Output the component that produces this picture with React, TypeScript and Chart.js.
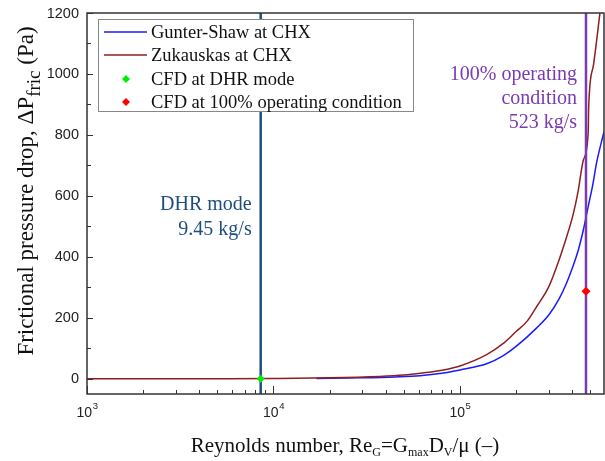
import { useEffect, useRef } from "react";
import { Chart, registerables } from "chart.js";

Chart.register(...registerables);

// ---- data ----
const gunterRe = [17000, 30000, 45000, 61000, 80000, 100000, 139000, 170000, 200000, 258000, 300000, 340000, 373000, 403000, 430000, 459000, 487000, 515000, 540000, 592000];
const gunterDp = [0.5, 3, 6, 10, 18, 29, 49, 75, 106, 167, 210, 262, 314, 368, 420, 489, 565, 635, 708, 811];

const zukRe = [1000, 3000, 5000, 10000, 20000, 37000, 50000, 63000, 80000, 100000, 139000, 170000, 200000, 230000, 258000, 300000, 340000, 373000, 403000, 430000, 459000, 487000, 490000, 520000, 563000, 592000];
const zukDp = [0, 0, 0.3, 1, 3, 7.5, 12, 19, 28, 42, 79, 115, 155, 190, 237, 303, 390, 465, 535, 615, 718, 807, 893, 1030, 1200, 1310];

const cfdDhrRe = [8540];
const cfdDhrDp = [0];
const cfdOpRe = [474000];
const cfdOpDp = [287];

const dhrRe = 8540;
const opRe = 474000;

const xRange = [1000, 592000];
const yRange = [-50, 1200];
const yTicks = [0, 200, 400, 600, 800, 1000, 1200];
const yMinorTicks = [100, 300, 500, 700, 900, 1100];
const xDecades = [1000, 10000, 100000];
const xExponents = ["3", "4", "5"];

const legendLabels = ["Gunter-Shaw at CHX", "Zukauskas at CHX", "CFD at DHR mode", "CFD at 100% operating condition"];
const dhrNote = ["DHR mode", "9.45 kg/s"];
const opNote = ["100% operating", "condition", "523 kg/s"];

// ---- styles ----
const BLUE = "#1a1aff";
const BROWN = "#8e1f1f";
const DHR_COLOR = "#1f4e7e";
const OP_COLOR = "#7a3bb0";
const GREEN = "#00ee00";
const RED = "#ff0000";
const SERIF = '"Liberation Serif", "Times New Roman", serif';
const SANS = '"Liberation Sans", Arial, sans-serif';

function diamond(ctx: CanvasRenderingContext2D, cx: number, cy: number, r: number, color: string) {
  ctx.beginPath();
  ctx.moveTo(cx, cy - r);
  ctx.lineTo(cx + r, cy);
  ctx.lineTo(cx, cy + r);
  ctx.lineTo(cx - r, cy);
  ctx.closePath();
  ctx.fillStyle = color;
  ctx.fill();
}

type Piece = { t: string; sub?: boolean };

function drawPieces(ctx: CanvasRenderingContext2D, pieces: Piece[], cx: number, baseY: number, main: string, sub: string, subOff: number) {
  let total = 0;
  for (const p of pieces) {
    ctx.font = p.sub ? sub : main;
    total += ctx.measureText(p.t).width;
  }
  let xPos = cx - total / 2;
  ctx.textAlign = "left";
  ctx.textBaseline = "alphabetic";
  for (const p of pieces) {
    ctx.font = p.sub ? sub : main;
    ctx.fillText(p.t, xPos, baseY + (p.sub ? subOff : 0));
    xPos += ctx.measureText(p.t).width;
  }
}

const decor = {
  id: "decor",
  afterDatasetsDraw(chart: any) {
    const { ctx, chartArea: a } = chart;
    const x = chart.scales.x;
    const y = chart.scales.y;
    ctx.save();

    // frame
    ctx.strokeStyle = "#333";
    ctx.lineWidth = 1.5;
    ctx.strokeRect(a.left, a.top, a.right - a.left, a.bottom - a.top);

    // x ticks (inward)
    ctx.lineWidth = 1;
    ctx.beginPath();
    for (const d of xDecades) {
      for (let k = 1; k <= 9; k++) {
        const v = k * d;
        if (v > xRange[1]) continue;
        const px = Math.round(x.getPixelForValue(v)) + 0.5;
        const len = k === 1 ? 8 : 4;
        ctx.moveTo(px, a.bottom);
        ctx.lineTo(px, a.bottom - len);
      }
    }
    // y ticks (inward)
    for (const v of yTicks) {
      const py = Math.round(y.getPixelForValue(v)) + 0.5;
      ctx.moveTo(a.left, py);
      ctx.lineTo(a.left + 6, py);
    }
    for (const v of yMinorTicks) {
      const py = Math.round(y.getPixelForValue(v)) + 0.5;
      ctx.moveTo(a.left, py);
      ctx.lineTo(a.left + 4, py);
    }
    ctx.stroke();

    // y tick labels
    ctx.fillStyle = "#222";
    ctx.font = `14.5px ${SANS}`;
    ctx.textAlign = "right";
    ctx.textBaseline = "middle";
    for (const v of yTicks) {
      ctx.fillText(String(v), a.left - 8, y.getPixelForValue(v) + 0.5);
    }

    // x tick labels 10^n
    xDecades.forEach((d, i) => {
      const px = x.getPixelForValue(d);
      ctx.font = `14px ${SANS}`;
      const w1 = ctx.measureText("10").width;
      ctx.font = `9.5px ${SANS}`;
      const w2 = ctx.measureText(xExponents[i]).width;
      const start = px - (w1 + w2) / 2;
      ctx.textAlign = "left";
      ctx.textBaseline = "alphabetic";
      ctx.font = `14px ${SANS}`;
      ctx.fillText("10", start, a.bottom + 23);
      ctx.font = `9.5px ${SANS}`;
      ctx.fillText(xExponents[i], start + w1 + 0.5, a.bottom + 15);
    });

    // annotations
    ctx.font = `20px ${SERIF}`;
    ctx.textAlign = "right";
    ctx.textBaseline = "alphabetic";
    ctx.fillStyle = DHR_COLOR;
    const dx = x.getPixelForValue(dhrRe) - 9;
    dhrNote.forEach((t, i) => ctx.fillText(t, dx, 210 + i * 25));
    ctx.fillStyle = OP_COLOR;
    const ox = x.getPixelForValue(opRe) - 9;
    opNote.forEach((t, i) => ctx.fillText(t, ox, 80 + i * 24));

    // legend
    const lx = a.left + 11, ly = a.top + 6, lw = 315, lh = 92;
    ctx.fillStyle = "#fff";
    ctx.fillRect(lx, ly, lw, lh);
    ctx.strokeStyle = "#888";
    ctx.lineWidth = 1;
    ctx.strokeRect(lx + 0.5, ly + 0.5, lw, lh);
    const rowY = [ly + 13, ly + 36, ly + 60, ly + 83];
    ctx.lineWidth = 1.5;
    ctx.strokeStyle = BLUE;
    ctx.beginPath(); ctx.moveTo(lx + 6, rowY[0]); ctx.lineTo(lx + 49, rowY[0]); ctx.stroke();
    ctx.strokeStyle = BROWN;
    ctx.beginPath(); ctx.moveTo(lx + 6, rowY[1]); ctx.lineTo(lx + 49, rowY[1]); ctx.stroke();
    diamond(ctx, lx + 28, rowY[2], 4, GREEN);
    diamond(ctx, lx + 28, rowY[3], 4, RED);
    ctx.fillStyle = "#111";
    ctx.font = `18.5px ${SERIF}`;
    ctx.textAlign = "left";
    ctx.textBaseline = "middle";
    legendLabels.forEach((t, i) => ctx.fillText(t, lx + 53, rowY[i] + 1));

    // x axis title
    ctx.fillStyle = "#111";
    drawPieces(
      ctx,
      [
        { t: "Reynolds number, Re" },
        { t: "G", sub: true },
        { t: "=G" },
        { t: "max", sub: true },
        { t: "D" },
        { t: "V", sub: true },
        { t: "/\u03bc (\u2013)" },
      ],
      345,
      452,
      `21px ${SERIF}`,
      `12px ${SERIF}`,
      4
    );

    // y axis title
    ctx.save();
    ctx.translate(33, 191);
    ctx.rotate(-Math.PI / 2);
    drawPieces(
      ctx,
      [{ t: "Frictional pressure drop, \u0394P" }, { t: "fric", sub: true }, { t: " (Pa)" }],
      0,
      0,
      `23px ${SERIF}`,
      `19px ${SERIF}`,
      7
    );
    ctx.restore();

    ctx.restore();
  },
};

export default function App() {
  const ref = useRef<HTMLCanvasElement | null>(null);
  useEffect(() => {
    if (!ref.current) return;
    const chart = new Chart(ref.current, {
      type: "line",
      data: {
        datasets: [
          {
            label: "CFD at DHR mode",
            data: cfdDhrRe.map((v, i) => ({ x: v, y: cfdDhrDp[i] })),
            showLine: false,
            pointStyle: "rectRot",
            pointRadius: 4,
            backgroundColor: GREEN,
            borderColor: GREEN,
            borderWidth: 0,
            order: 0,
          },
          {
            label: "CFD at 100% operating condition",
            data: cfdOpRe.map((v, i) => ({ x: v, y: cfdOpDp[i] })),
            showLine: false,
            pointStyle: "rectRot",
            pointRadius: 4.5,
            backgroundColor: RED,
            borderColor: RED,
            borderWidth: 0,
            order: 0,
          },
          {
            label: "op",
            data: [{ x: opRe, y: yRange[0] }, { x: opRe, y: yRange[1] }],
            borderColor: OP_COLOR,
            borderWidth: 2.5,
            pointRadius: 0,
            order: 1,
          },
          {
            label: "dhr",
            data: [{ x: dhrRe, y: yRange[0] }, { x: dhrRe, y: yRange[1] }],
            borderColor: DHR_COLOR,
            borderWidth: 2.5,
            pointRadius: 0,
            order: 2,
          },
          {
            label: "Zukauskas at CHX",
            data: zukRe.map((v, i) => ({ x: v, y: zukDp[i] })),
            borderColor: BROWN,
            borderWidth: 1.5,
            pointRadius: 0,
            cubicInterpolationMode: "monotone",
            order: 3,
          },
          {
            label: "Gunter-Shaw at CHX",
            data: gunterRe.map((v, i) => ({ x: v, y: gunterDp[i] })),
            borderColor: BLUE,
            borderWidth: 1.5,
            pointRadius: 0,
            cubicInterpolationMode: "monotone",
            order: 4,
          },
        ],
      },
      options: {
        animation: false,
        responsive: true,
        maintainAspectRatio: false,
        events: [],
        layout: { autoPadding: false, padding: { left: 87, right: 1, top: 13, bottom: 67 } },
        scales: {
          x: { type: "logarithmic", min: xRange[0], max: xRange[1], display: false },
          y: { type: "linear", min: yRange[0], max: yRange[1], display: false },
        },
        plugins: { legend: { display: false }, tooltip: { enabled: false } },
      },
      plugins: [decor],
    });
    return () => chart.destroy();
  }, []);
  return (
    <div style={{ position: "fixed", left: 0, top: 0, width: 605, height: 461, background: "#fff" }}>
      <canvas ref={ref} />
    </div>
  );
}
